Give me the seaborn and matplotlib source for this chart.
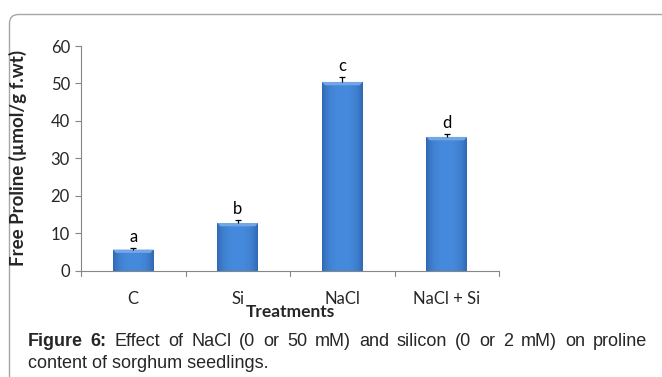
import numpy as np
import pandas as pd
import seaborn as sns
import matplotlib.pyplot as plt
from matplotlib.patches import FancyBboxPatch
from matplotlib.lines import Line2D

treatments = ["C", "Si", "NaCl", "NaCl + Si"]
proline = [5.6, 12.7, 50.4, 35.7]
proline_se = [0.5, 0.7, 1.3, 0.9]
letters = ["a", "b", "c", "d"]
y_ticks = [0, 10, 20, 30, 40, 50, 60]

sns.set_theme(style="white")
plt.rcParams["font.family"] = ["Lato", "DejaVu Sans"]

df = pd.DataFrame({"Treatment": treatments, "Proline": proline})

fig = plt.figure(figsize=(6.62, 3.77), dpi=100)
W, H = 662, 377

# chart frame: rounded top-left corner, open to the right and bottom
frame = fig.add_axes([0, 0, 1, 1], zorder=0)
frame.set_xlim(0, W)
frame.set_ylim(H, 0)
frame.axis("off")
frame.add_patch(FancyBboxPatch((9.5, 14.5), 700, 500, boxstyle="round,pad=0,rounding_size=9",
                               fill=False, edgecolor="#a6a6a6", linewidth=1.0))

AX_L, AX_R, AX_T, AX_B = 81, 499, 46, 270.5
ax = fig.add_axes([AX_L / W, 1 - AX_B / H, (AX_R - AX_L) / W, (AX_B - AX_T) / H], zorder=1)
ax.patch.set_alpha(0)
sns.barplot(data=df, x="Treatment", y="Proline", color="#3d7cca", width=0.39,
            saturation=1, ax=ax, zorder=2)

# bevelled look on each bar
for bar in ax.patches:
    x0, y0 = bar.get_x(), bar.get_y()
    w, h = bar.get_width(), bar.get_height()
    bar.set_edgecolor("none")
    img = np.zeros((1, 64, 4))
    base = np.array([0.19, 0.41, 0.71])
    light = np.array([0.27, 0.54, 0.86])
    prof = 1 - np.abs(np.linspace(-1, 1, 64)) ** 3
    for k in range(3):
        img[0, :, k] = base[k] + (light[k] - base[k]) * prof
    img[0, :, 3] = 1
    im = ax.imshow(img, extent=(x0, x0 + w, y0, y0 + h), aspect="auto", zorder=2.1,
                   interpolation="bilinear")
    im.set_clip_path(bar)
    bev = min(0.9, h * 0.3)
    ax.fill([x0, x0 + w, x0 + w - 0.03, x0 + 0.03], [h, h, h - bev, h - bev],
            color="#74a6e6", zorder=2.2, linewidth=0)

# upper error bars only
xs = np.arange(len(treatments))
tops = np.array(proline) + np.array(proline_se)
ax.vlines(xs, proline, tops, color="black", linewidth=0.9, zorder=3)
ax.hlines(tops, xs - 0.03, xs + 0.03, color="black", linewidth=0.9, zorder=3)
for x, t, lab in zip(xs, tops, letters):
    ax.text(x, t + 0.8, lab, ha="center", va="bottom", fontsize=12, color="black")

ax.set_xlim(-0.5, 3.5)
ax.set_ylim(0, 60)
ax.set_yticks(y_ticks)
ax.set_xticks(xs)
ax.set_xticklabels(treatments, fontsize=12)
ax.tick_params(axis="y", labelsize=12, length=4, width=0.8, color="#868686", direction="out",
               left=True, pad=4)
ax.tick_params(axis="x", length=0, pad=15)
for b in np.arange(-0.5, 4.0, 1.0):
    ax.add_line(Line2D([b, b], [0, -1.6], color="#868686", linewidth=0.8, clip_on=False))
for s in ["top", "right"]:
    ax.spines[s].set_visible(False)
for s in ["left", "bottom"]:
    ax.spines[s].set_color("#868686")
    ax.spines[s].set_linewidth(0.8)
ax.set_xlabel("Treatments", fontsize=12.5, fontweight="bold")
ax.set_ylabel("Free Proline (µmol/g f.wt)", fontsize=13.5, fontweight="bold")
ax.xaxis.set_label_coords(0.5, -0.147)
ax.yaxis.set_label_coords((27 - AX_L) / (AX_R - AX_L), 0.5)
ax.grid(False)

# justified figure caption
cap_font = ["Liberation Sans", "DejaVu Sans"]
cap_size = 13
left, right = 28, 647
line1 = [("Figure", "bold"), ("6:", "bold")] + [
    (w_, "normal") for w_ in
    "Effect of NaCl (0 or 50 mM) and silicon (0 or 2 mM) on proline".split()]
fig.canvas.draw()
r = fig.canvas.get_renderer()
inv = frame.transData.inverted()
texts, widths = [], []
for word, weight in line1:
    t = frame.text(0, 341, word, fontsize=cap_size, fontweight=weight, va="center",
                   ha="left", family=cap_font)
    bb = t.get_window_extent(renderer=r)
    widths.append(inv.transform((bb.x1, 0))[0] - inv.transform((bb.x0, 0))[0])
    texts.append(t)
gap = (right - left - sum(widths)) / (len(texts) - 1)
xpos = left
for t, wd in zip(texts, widths):
    t.set_x(xpos)
    xpos += wd + gap
frame.text(left, 363, "content of sorghum seedlings.", fontsize=cap_size, va="center",
           ha="left", family=cap_font)

fig.savefig("out.png", dpi=100)
